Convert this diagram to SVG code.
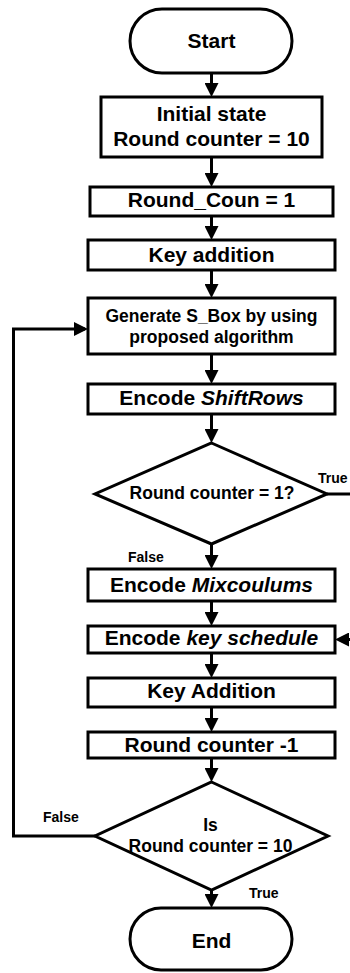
<svg xmlns="http://www.w3.org/2000/svg" width="350" height="973" viewBox="0 0 350 973">
  <style>
    .shape { fill: #fff; stroke: #000; stroke-width: 3; }
    .wire { fill: none; stroke: #000; stroke-width: 3; }
    text { font-family: "Liberation Sans", Arial, sans-serif; font-weight: bold; fill: #000; }
    .big { font-size: 21px; text-anchor: middle; }
    .mid { font-size: 17.5px; text-anchor: middle; }
    .tag { font-size: 14px; }
    .it { font-style: italic; }
  </style>
  <defs>
    <marker id="arrow" viewBox="0 0 14 14" refX="11" refY="7" markerWidth="14" markerHeight="14" markerUnits="userSpaceOnUse" orient="auto">
      <path d="M0,0 L14,7 L0,14 z" fill="#000"/>
    </marker>
  </defs>

  <rect width="350" height="973" fill="#fff"/>

  <!-- connectors -->
  <g id="connectors">
    <path class="wire" marker-end="url(#arrow)" d="M211.5,73 V94"/>
    <path class="wire" marker-end="url(#arrow)" d="M211.5,157 V184"/>
    <path class="wire" marker-end="url(#arrow)" d="M211.5,216 V237"/>
    <path class="wire" marker-end="url(#arrow)" d="M211.5,270 V295"/>
    <path class="wire" marker-end="url(#arrow)" d="M211.5,354 V381"/>
    <path class="wire" marker-end="url(#arrow)" d="M211.5,414 V440"/>
    <path class="wire" marker-end="url(#arrow)" d="M211.5,544 V566"/>
    <path class="wire" marker-end="url(#arrow)" d="M211.5,601 V623"/>
    <path class="wire" marker-end="url(#arrow)" d="M211.5,653 V675"/>
    <path class="wire" marker-end="url(#arrow)" d="M211.5,707 V729"/>
    <path class="wire" marker-end="url(#arrow)" d="M211.5,758 V779"/>
    <path class="wire" marker-end="url(#arrow)" d="M211.5,890 V905"/>
    <!-- loop back: False branch of the final check -->
    <path class="wire" marker-end="url(#arrow)" d="M95,836 H13.5 V329 H85"/>
    <!-- True branch of the first check, leaving to the right -->
    <path class="wire" d="M327,494 H352"/>
    <!-- entry into the key schedule from the right -->
    <path class="wire" marker-end="url(#arrow)" d="M356,639.5 H338"/>
  </g>

  <g id="start">
    <rect class="shape" x="130" y="9" width="162" height="64" rx="32" ry="32"/>
    <text class="big" x="211.5" y="48">Start</text>
  </g>

  <g id="init">
    <rect class="shape" x="101" y="97" width="221" height="60"/>
    <text class="big" x="211.5" y="121">Initial state</text>
    <text class="big" x="211.5" y="146">Round counter = 10</text>
  </g>

  <g id="round-coun">
    <rect class="shape" x="90" y="187" width="243" height="29"/>
    <text class="big" x="211.5" y="207">Round_Coun = 1</text>
  </g>

  <g id="key-addition-1">
    <rect class="shape" x="88" y="240" width="247" height="30"/>
    <text class="big" x="211.5" y="262">Key addition</text>
  </g>

  <g id="sbox">
    <rect class="shape" x="88" y="298" width="247" height="56"/>
    <text class="mid" x="211.5" y="322">Generate S_Box by using</text>
    <text class="mid" x="211.5" y="343">proposed algorithm</text>
  </g>

  <g id="shiftrows">
    <rect class="shape" x="88" y="384" width="247" height="30"/>
    <text class="big" x="211.5" y="405">Encode <tspan class="it">ShiftRows</tspan></text>
  </g>

  <g id="check-1">
    <polygon class="shape" points="211.5,443 327,494 211.5,544 95,494"/>
    <text class="mid" x="212" y="499">Round counter = 1?</text>
    <text class="tag" x="318" y="483">True</text>
    <text class="tag" x="128" y="562">False</text>
  </g>

  <g id="mixcolumns">
    <rect class="shape" x="88" y="569" width="247" height="32"/>
    <text class="big" x="211.5" y="592">Encode <tspan class="it">Mixcoulums</tspan></text>
  </g>

  <g id="key-schedule">
    <rect class="shape" x="88" y="626" width="247" height="27"/>
    <text class="big" x="211.5" y="645">Encode <tspan class="it">key schedule</tspan></text>
  </g>

  <g id="key-addition-2">
    <rect class="shape" x="88" y="678" width="247" height="29"/>
    <text class="big" x="211.5" y="698">Key Addition</text>
  </g>

  <g id="decrement">
    <rect class="shape" x="88" y="732" width="247" height="26"/>
    <text class="big" x="211.5" y="752">Round counter -1</text>
  </g>

  <g id="check-2">
    <polygon class="shape" points="211.5,782 328,836 211.5,890 95,836"/>
    <text class="mid" x="210.5" y="831">Is</text>
    <text class="mid" x="210.5" y="852">Round counter = 10</text>
    <text class="tag" x="43" y="822">False</text>
    <text class="tag" x="249" y="898">True</text>
  </g>

  <g id="end">
    <rect class="shape" x="130" y="908" width="162" height="62" rx="31" ry="31"/>
    <text class="big" x="211.5" y="948">End</text>
  </g>
</svg>
